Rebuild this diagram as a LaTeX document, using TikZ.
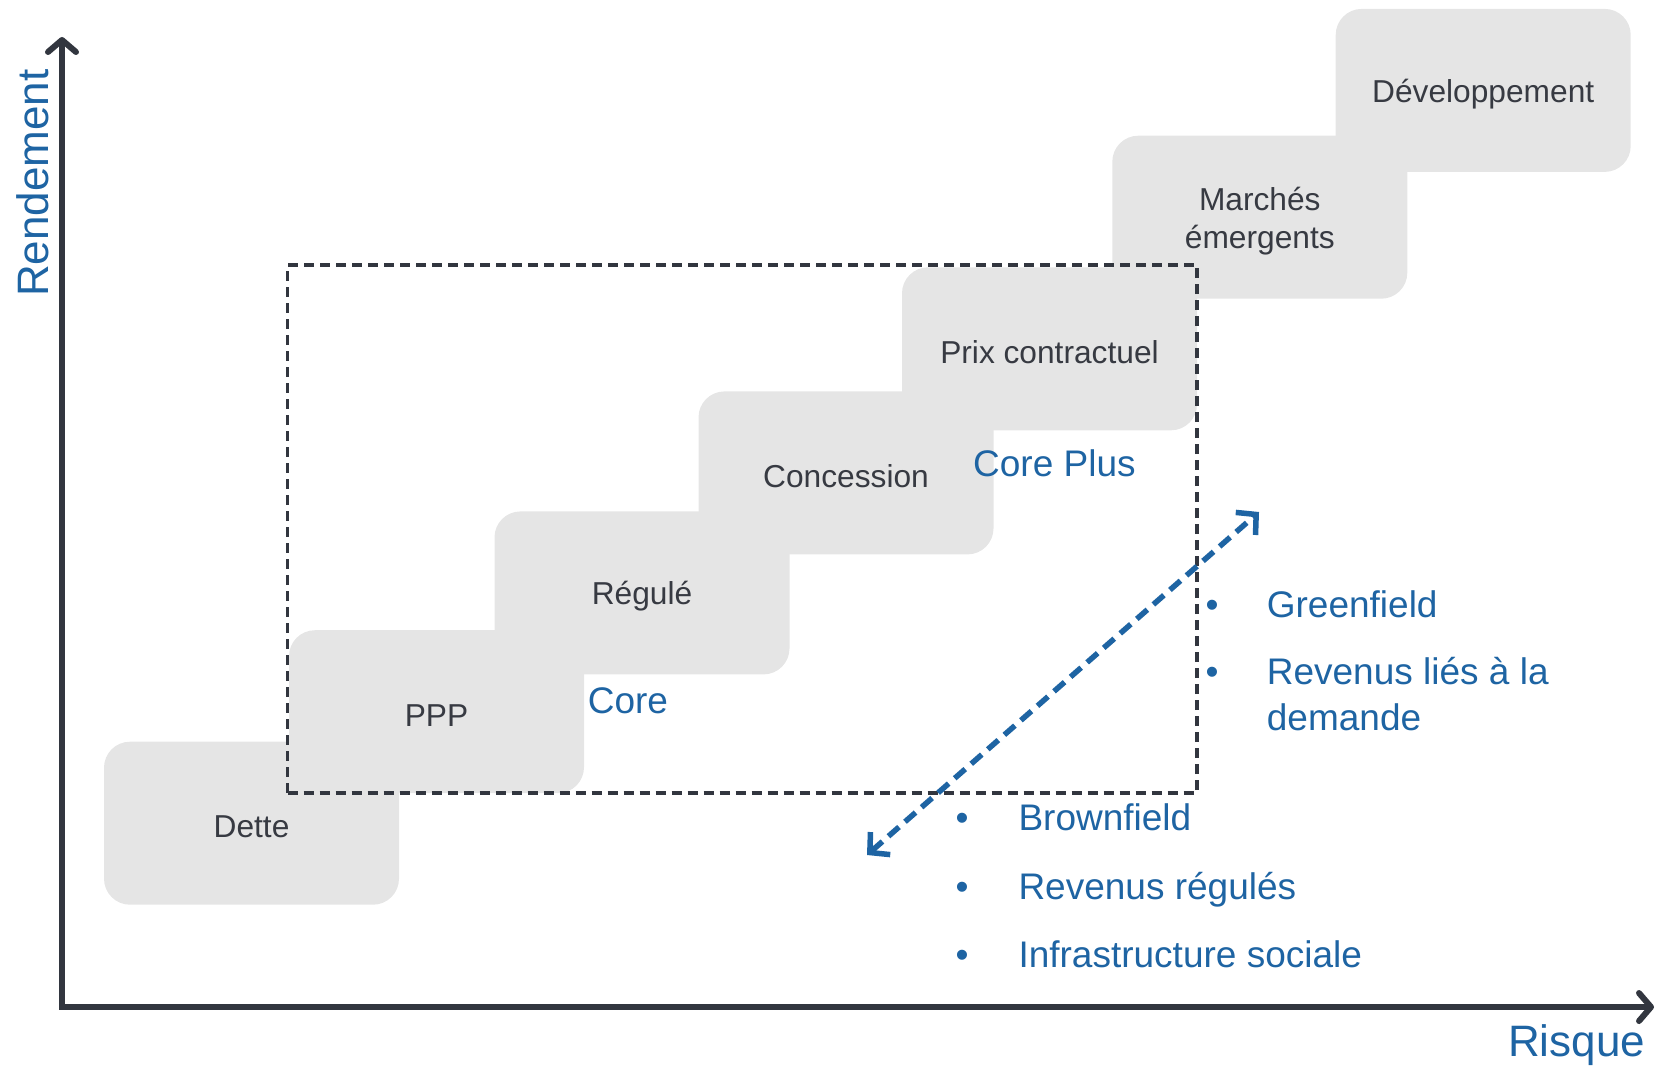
\documentclass[tikz,border=0pt]{standalone}
\usepackage{fontspec}
\setmainfont{Liberation Sans}
\usetikzlibrary{arrows.meta}
\definecolor{axisgray}{RGB}{50,54,63}
\definecolor{boxgray}{RGB}{229,229,229}
\definecolor{labelgray}{RGB}{55,58,66}
\definecolor{accentblue}{RGB}{30,100,163}
\begin{document}
\begin{tikzpicture}[x=1pt,y=-1pt,
  stepbox/.style={rectangle, rounded corners=26pt, fill=boxgray,
    minimum width=295pt, minimum height=163pt, inner sep=0pt,
    label={[steplabel]center:#1}},
  steplabel/.style={align=center, text=labelgray, inner sep=0pt, yshift=-3.7pt,
    font=\fontsize{31.7}{38}\selectfont},
  bluetext/.style={text=accentblue, font=\fontsize{37}{46.6}\selectfont,
    inner sep=0pt, anchor=base west},
  axislabel/.style={text=accentblue, font=\fontsize{44}{50}\selectfont,
    inner sep=0pt, anchor=base west},
  axisline/.style={draw=axisgray, line width=6pt,
    {Straight Barb[length=12pt,width=28pt,round]}-{Straight Barb[length=12pt,width=28pt,round]}},
  zonebox/.style={draw=axisgray, line width=3.8pt, dash pattern=on 10pt off 6pt,
    inner sep=0pt},
  rangearrow/.style={draw=accentblue, line width=5.5pt, dash pattern=on 14pt off 8pt,
    {Straight Barb[length=14pt,width=30pt]}-{Straight Barb[length=14pt,width=30pt]}}
]
\useasboundingbox (0,0) rectangle (1657,1066);

% staircase of investment categories
\node[stepbox=Dette] (dette) at (251.5,823.2) {};
\node[stepbox=PPP] (ppp) at (436.5,711.7) {};
\node[stepbox=Régulé] (regule) at (642,592.9) {};
\node[stepbox=Concession] (concession) at (846,472.9) {};
\node[stepbox=Prix contractuel] (prix) at (1049.5,348.8) {};
\node[stepbox={Marchés\\émergents}] (marches) at (1259.8,217.2) {};
\node[stepbox=Développement] (dev) at (1483.2,90.4) {};

% core / core plus zone
\node[zonebox, minimum width=909.5pt, minimum height=527.3pt] (zone) at (742.25,528.95) {};

% axes
\coordinate (ytop) at (62,37);
\coordinate (origin) at (62,1007);
\coordinate (xend) at (1654,1007);
\draw[axisline] (ytop) -- (origin) -- (xend);
\node[axislabel, rotate=90] (ylab) at (48,297) {Rendement};
\node[axislabel] (xlab) at (1508,1056) {Risque};

% zone labels
\node[bluetext] (coreplus) at (973,476) {Core Plus};
\node[bluetext] (core) at (587.6,713) {Core};

% greenfield / brownfield range
\coordinate (hi) at (1259,512);
\coordinate (lo) at (867,855);
\draw[rangearrow] (lo) -- (hi);

\node[bluetext] (green) at (1205.5,617) {\makebox[61.2pt][l]{•}Greenfield};
\node[bluetext] (demand) at (1205.5,684.5) {\makebox[61.2pt][l]{•}Revenus liés à la};
\node[bluetext] (demand2) at (1266.7,730.5) {demande};

\node[bluetext] (brown) at (955.5,830) {\makebox[62.8pt][l]{•}Brownfield};
\node[bluetext] (regulated) at (955.5,899) {\makebox[62.8pt][l]{•}Revenus régulés};
\node[bluetext] (social) at (955.5,967.5) {\makebox[62.8pt][l]{•}Infrastructure sociale};
\end{tikzpicture}
\end{document}
